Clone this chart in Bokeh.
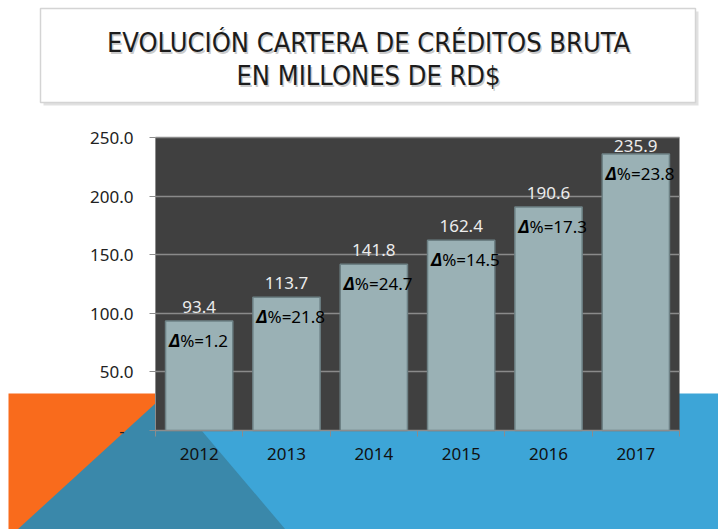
from bokeh.plotting import figure
from bokeh.models import (Range1d, FixedTicker, CustomJSTickFormatter, ColumnDataSource)
from bokeh.core.properties import value
from bokeh.embed import file_html
from bokeh.resources import INLINE
import numpy as np

years = ["2012", "2013", "2014", "2015", "2016", "2017"]
cartera = [93.4, 113.7, 141.8, 162.4, 190.6, 235.9]
crecimiento = [1.2, 21.8, 24.7, 14.5, 17.3, 23.8]
yticks = [0, 50, 100, 150, 200, 250]
title_lines = ["EVOLUCIÓN CARTERA DE CRÉDITOS BRUTA", "EN MILLONES DE RD$"]

W, H = 718, 529
FL, FR, FT, FB = 155, 679, 137, 430      # plot area edges in page pixels
NX, YMAX = len(years), 250
kx = NX / (FR - FL)
ky = YMAX / (FB - FT)

# the frame covers the whole page; data ranges are set so that the plot area sits at FL..FR, FT..FB
p = figure(width=W, height=H,
           x_range=Range1d(-FL * kx, NX + (W - FR) * kx),
           y_range=Range1d(-(H - FB) * ky, YMAX + FT * ky),
           output_backend="svg", toolbar_location=None,
           min_border_left=0, min_border_right=0, min_border_top=0, min_border_bottom=0)
p.extra_x_ranges = {"px": Range1d(0, W)}
p.extra_y_ranges = {"px": Range1d(H, 0)}
p.background_fill_color = "white"
p.border_fill_color = "white"
p.outline_line_color = None

deco = dict(x_range_name="px", y_range_name="px", level="image")

# decorative background shapes (page pixel coordinates)
p.patch([8, 172, 172, 8], [393, 393, 529, 529], fill_color="#F96B1C", line_color=None, **deco)
p.patch([165, 718, 718, 165], [393, 393, 529, 529], fill_color="#3DA5D7", line_color=None, **deco)
p.patch([17, 168, 285], [529, 391, 529], fill_color="#3A88AA", line_color=None, **deco)

# title box
p.patch([43, 698, 698, 43], [11, 11, 105, 105], fill_color="#c4c4c4", fill_alpha=0.5, line_color=None, **deco)
p.patch([40, 695, 695, 40], [8, 8, 102, 102], fill_color="white", line_color="#d4d4d4", line_width=1.5, **deco)
tsrc = ColumnDataSource(dict(x=[368, 368], y=[42, 75], t=title_lines))
p.text(x="x", y="y", text="t", source=tsrc, x_offset=1.5, y_offset=1.5, text_align="center",
       text_baseline="alphabetic", text_font=value("DejaVu Sans Condensed"), text_font_size="27px",
       text_color="#8a8a8a", text_alpha=0.45, x_range_name="px", y_range_name="px")
p.text(x="x", y="y", text="t", source=tsrc, text_align="center",
       text_baseline="alphabetic", text_font=value("DejaVu Sans Condensed"), text_font_size="27px",
       text_color="#1c1c1c", x_range_name="px", y_range_name="px")

# dark plot area
p.quad(left=[0], right=[NX], bottom=[0], top=[YMAX], fill_color="#404040", line_color=None, level="image")

# bars
xc = np.arange(NX) + 0.5
# value labels are kept inside the plot area (as the spreadsheet chart does)
label_y = np.minimum(cartera, YMAX - 22 * ky)
src = ColumnDataSource(dict(x=xc, v=cartera, ly=label_y, vl=[f"{v:.1f}" for v in cartera],
                            d=["Δ"] * NX, g=[f"%={g:.1f}" for g in crecimiento]))
p.vbar(x="x", top="v", width=0.77, bottom=0, source=src, fill_color="#9AB1B5",
       line_color="#6d8185", line_width=1.5)

p.text(x="x", y="ly", text="vl", source=src, text_align="center", text_baseline="alphabetic",
       y_offset=-14, text_font=value("Noto Sans"), text_font_size="17px", text_color="#ececec")
p.text(x="x", y="v", text="d", source=src, text_align="right", text_baseline="alphabetic",
       x_offset=-19, y_offset=19, text_font=value("Noto Sans"), text_font_size="17px",
       text_font_style="bold italic", text_color="black")
p.text(x="x", y="v", text="g", source=src, text_align="left", text_baseline="alphabetic",
       x_offset=-19, y_offset=19, text_font=value("Noto Sans"), text_font_size="17px",
       text_color="black")

# axes, fixed at the plot area's edges
p.yaxis.fixed_location = 0
p.yaxis.bounds = (0, YMAX)
p.yaxis.ticker = FixedTicker(ticks=yticks)
p.yaxis.formatter = CustomJSTickFormatter(code="return tick == 0 ? '-\u00a0\u00a0' : tick.toFixed(1);")
p.yaxis.axis_line_color = "#8c8c8c"
p.yaxis.major_tick_line_color = "#8c8c8c"
p.yaxis.major_tick_out = 6
p.yaxis.major_tick_in = 0
p.yaxis.minor_tick_line_color = None
p.yaxis.major_label_standoff = 16
p.yaxis.major_label_text_font = "Noto Sans"
p.yaxis.major_label_text_font_size = "17px"
p.yaxis.major_label_text_color = "#222222"

p.xaxis.fixed_location = 0
p.xaxis.bounds = (0, NX)
p.xaxis.ticker = FixedTicker(ticks=list(xc), minor_ticks=list(range(NX + 1)))
p.xaxis.formatter = CustomJSTickFormatter(args=dict(years=years), code="return years[Math.floor(tick)];")
p.xaxis.axis_line_color = "#8c8c8c"
p.xaxis.major_tick_line_color = None
p.xaxis.minor_tick_line_color = "#8c8c8c"
p.xaxis.minor_tick_out = 6
p.xaxis.minor_tick_in = 0
p.xaxis.major_label_standoff = 11
p.xaxis.major_label_text_font = "Noto Sans"
p.xaxis.major_label_text_font_size = "17px"
p.xaxis.major_label_text_color = "#111111"

p.xgrid.grid_line_color = None
p.ygrid.ticker = FixedTicker(ticks=yticks)
p.ygrid.bounds = (0, YMAX)
p.ygrid.cross_bounds = (0, NX)
p.ygrid.grid_line_color = "#8a8a8a"
p.ygrid.grid_line_width = 1.5

open("out.html", "w").write(file_html(p, INLINE))
